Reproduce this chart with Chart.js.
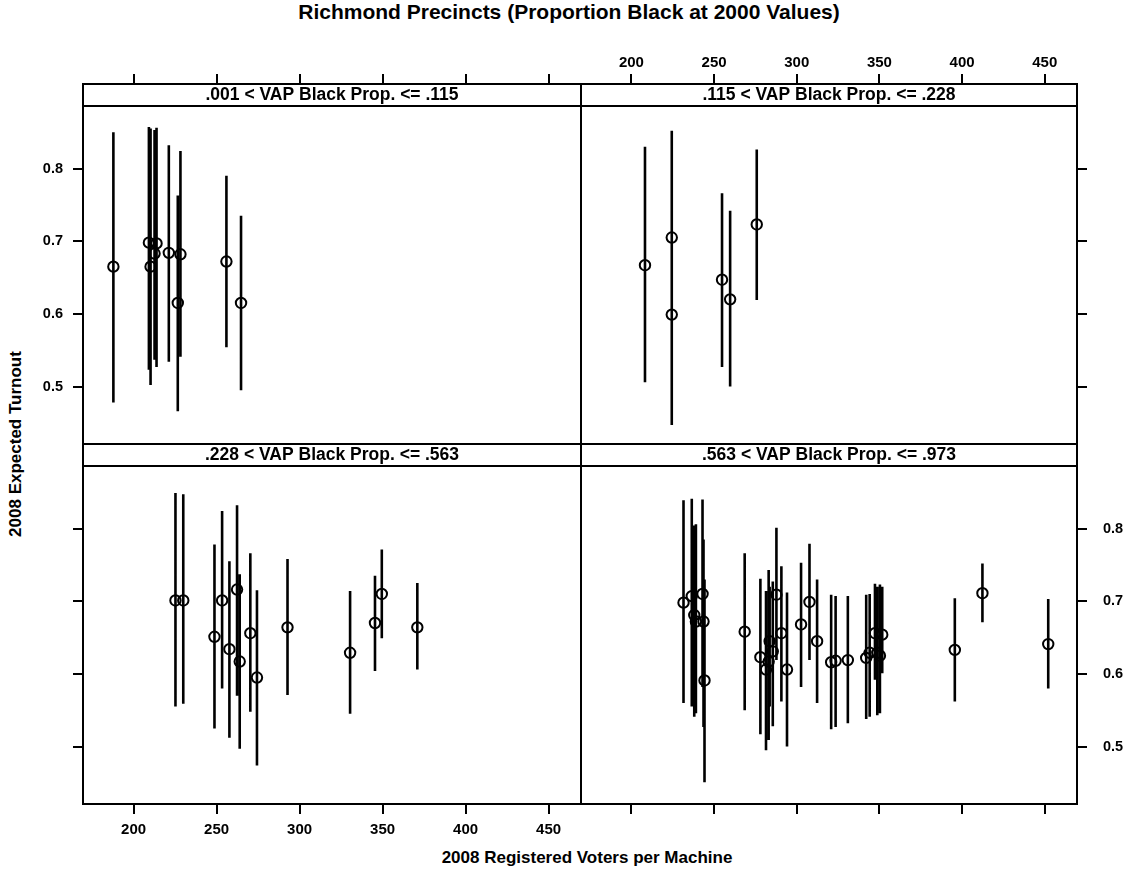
<!DOCTYPE html>
<html>
<head>
<meta charset="utf-8">
<script src="https://cdn.jsdelivr.net/npm/chart.js@4/dist/chart.umd.min.js"></script>
<style>
  body { margin: 0; background: #fff; }
  #fig { position: relative; width: 1127px; height: 873px; background: #fff; font-family: 'Liberation Sans', Arial, sans-serif; font-weight: bold; color: #000; }
  #fig canvas { position: absolute; }
  .lbl { position: absolute; white-space: nowrap; text-align: center; }
</style>
</head>
<body>
<div id="fig">
  <div class="lbl" style="left:0; width:1138px; top:0px; line-height:24px; font-size:21px;">Richmond Precincts (Proportion Black at 2000 Values)</div>
  <div class="lbl" style="left:0; width:1174px; top:847px; line-height:22px; font-size:17px;">2008 Registered Voters per Machine</div>
  <div class="lbl" style="left:16px; top:444px; width:0; height:0;">
    <div style="position:absolute; left:-150px; top:-11px; width:300px; line-height:22px; font-size:17px; transform:rotate(-90deg); text-align:center;">2008 Expected Turnout</div>
  </div>
  <canvas id="tl"></canvas>
  <canvas id="tr"></canvas>
  <canvas id="bl"></canvas>
  <canvas id="br"></canvas>
</div>
<script>
// axis ticks
const xTicks = [200, 250, 300, 350, 400, 450];
const yTicks = [0.5, 0.6, 0.7, 0.8];

// .001 < VAP Black Prop. <= .115
const tlX  = [187.8, 209.2, 210.2, 212.6, 213.8, 221.2, 226.6, 228.2, 255.9, 264.7];
const tlY  = [0.665, 0.698, 0.665, 0.683, 0.697, 0.684, 0.615, 0.682, 0.672, 0.615];
const tlLo = [0.478, 0.523, 0.502, 0.537, 0.527, 0.534, 0.466, 0.541, 0.554, 0.495];
const tlHi = [0.850, 0.857, 0.855, 0.853, 0.856, 0.832, 0.763, 0.824, 0.790, 0.735];

// .115 < VAP Black Prop. <= .228
const trX  = [208.2, 224.4, 224.4, 254.8, 259.7, 275.8];
const trY  = [0.667, 0.705, 0.599, 0.647, 0.620, 0.723];
const trLo = [0.506, 0.447, 0.460, 0.527, 0.500, 0.619];
const trHi = [0.830, 0.852, 0.740, 0.766, 0.742, 0.826];

// .228 < VAP Black Prop. <= .563
const blX  = [225.2, 229.9, 248.7, 253.3, 257.7, 262.3, 263.9, 270.3, 274.3, 292.7, 330.4, 345.4, 349.5, 370.9];
const blY  = [0.701, 0.701, 0.651, 0.701, 0.634, 0.716, 0.617, 0.656, 0.595, 0.664, 0.629, 0.670, 0.710, 0.664];
const blLo = [0.555, 0.559, 0.525, 0.580, 0.512, 0.570, 0.497, 0.548, 0.474, 0.571, 0.545, 0.604, 0.649, 0.606];
const blHi = [0.849, 0.847, 0.778, 0.824, 0.755, 0.832, 0.737, 0.766, 0.715, 0.758, 0.714, 0.735, 0.771, 0.725];

// .563 < VAP Black Prop. <= .973
const brX  = [231.5, 236.5, 238.0, 239.0, 243.0, 243.6, 244.2, 268.5, 278.0, 281.4, 283.0, 283.6, 285.5, 287.7, 290.7, 294.1,
              302.6, 307.7, 312.3, 320.8, 323.5, 330.9, 342.0, 344.1, 347.3, 348.7, 350.3, 351.7, 395.6, 412.3, 452.1];
const brY  = [0.698, 0.707, 0.681, 0.672, 0.710, 0.672, 0.591, 0.658, 0.623, 0.606, 0.617, 0.645, 0.631, 0.709, 0.656, 0.606,
              0.668, 0.699, 0.645, 0.616, 0.618, 0.619, 0.622, 0.629, 0.656, 0.629, 0.625, 0.654, 0.633, 0.711, 0.641];
const brLo = [0.560, 0.555, 0.541, 0.546, 0.582, 0.527, 0.451, 0.550, 0.517, 0.495, 0.509, 0.555, 0.528, 0.619, 0.562, 0.500,
              0.582, 0.619, 0.560, 0.524, 0.527, 0.532, 0.538, 0.541, 0.592, 0.543, 0.546, 0.601, 0.562, 0.671, 0.580];
const brHi = [0.839, 0.841, 0.804, 0.806, 0.840, 0.785, 0.730, 0.766, 0.731, 0.714, 0.743, 0.720, 0.727, 0.801, 0.748, 0.712,
              0.753, 0.779, 0.730, 0.709, 0.707, 0.707, 0.709, 0.710, 0.724, 0.720, 0.723, 0.720, 0.704, 0.752, 0.703];

const FONT = "'Liberation Sans', Arial, sans-serif";
const STRIP = 22, DATA_H = 338, PAD = 2;

// strip + panel frame
const panelBox = {
    id: 'panelBox',
    afterDraw(chart) {
        const { ctx, chartArea: a, titleBlock: t } = chart;
        ctx.save();
        ctx.strokeStyle = '#000';
        ctx.lineWidth = 2;
        ctx.strokeRect(a.left, t.top, a.right - a.left, a.bottom - t.top);
        ctx.beginPath();
        ctx.moveTo(a.left, a.top);
        ctx.lineTo(a.right, a.top);
        ctx.stroke();
        ctx.restore();
    }
};

function makePanel(id, strip, xs, ys, lo, hi, box, xPos, yPos, xLabels, yLabels) {
    const xH = xLabels ? 60 : 40;
    const yW = yLabels ? 60 : 40;
    const [left, right, stripTop] = box;
    const cv = document.getElementById(id);
    const cLeft = left - (yPos === 'left' ? yW : PAD);
    const cTop = stripTop - (xPos === 'top' ? xH : PAD);
    cv.width = (right - left) + yW + PAD;
    cv.height = STRIP + DATA_H + xH + PAD;
    cv.style.left = cLeft + 'px';
    cv.style.top = cTop + 'px';

    const bars = [];
    xs.forEach((x, i) => {
        bars.push({ x: x, y: lo[i] }, { x: x, y: hi[i] }, { x: x, y: null });
    });
    const tickGrid = { display: true, drawOnChartArea: false, drawTicks: true, tickLength: 10, color: '#000', lineWidth: 2 };
    new Chart(cv, {
        type: 'scatter',
        data: {
            datasets: [
                {
                    data: xs.map((x, i) => ({ x: x, y: ys[i] })),
                    pointStyle: 'circle',
                    pointRadius: 5.2,
                    pointBorderWidth: 2,
                    pointBorderColor: '#000',
                    pointBackgroundColor: 'rgba(0,0,0,0)'
                },
                {
                    data: bars,
                    showLine: true,
                    spanGaps: false,
                    borderColor: '#000',
                    borderWidth: 2.6,
                    pointRadius: 0
                }
            ]
        },
        options: {
            responsive: false,
            animation: false,
            events: [],
            layout: {
                autoPadding: false,
                padding: {
                    left: yPos === 'left' ? 0 : PAD,
                    right: yPos === 'right' ? 0 : PAD,
                    top: xPos === 'top' ? 0 : PAD,
                    bottom: xPos === 'bottom' ? 0 : PAD
                }
            },
            plugins: {
                legend: { display: false },
                tooltip: { enabled: false },
                title: {
                    display: true,
                    text: strip,
                    position: 'top',
                    fullSize: false,
                    weight: -10,
                    color: '#000',
                    font: { family: FONT, size: 17.5, weight: 'bold', lineHeight: STRIP + 'px' },
                    padding: 0
                }
            },
            scales: {
                x: {
                    type: 'linear',
                    position: xPos,
                    min: 169.5,
                    max: 469.5,
                    afterBuildTicks: s => { s.ticks = xTicks.map(v => ({ value: v })); },
                    afterFit: s => { s.height = xH; s.paddingLeft = 0; s.paddingRight = 0; },
                    grid: tickGrid,
                    border: { display: false },
                    ticks: {
                        display: xLabels,
                        padding: xPos === 'top' ? 2 : 7,
                        color: '#000',
                        font: { family: FONT, size: 15, weight: 'bold' },
                        callback: v => String(v)
                    }
                },
                y: {
                    type: 'linear',
                    position: yPos,
                    min: 0.421,
                    max: 0.886,
                    afterBuildTicks: s => { s.ticks = yTicks.map(v => ({ value: v })); },
                    afterFit: s => { s.width = yW; s.paddingTop = 0; s.paddingBottom = 0; },
                    grid: tickGrid,
                    border: { display: false },
                    ticks: {
                        display: yLabels,
                        padding: yPos === 'left' ? 10 : 16,
                        color: '#000',
                        font: { family: FONT, size: 14.5, weight: 'bold' },
                        callback: v => v.toFixed(1)
                    }
                }
            }
        },
        plugins: [panelBox]
    });
}

makePanel('tl', '.001 < VAP Black Prop. <= .115', tlX, tlY, tlLo, tlHi, [83, 581, 84], 'top', 'left', false, true);
makePanel('tr', '.115 < VAP Black Prop. <= .228', trX, trY, trLo, trHi, [581, 1077, 84], 'top', 'right', true, false);
makePanel('bl', '.228 < VAP Black Prop. <= .563', blX, blY, blLo, blHi, [83, 581, 444], 'bottom', 'left', true, false);
makePanel('br', '.563 < VAP Black Prop. <= .973', brX, brY, brLo, brHi, [581, 1077, 444], 'bottom', 'right', false, true);
</script>
</body>
</html>
